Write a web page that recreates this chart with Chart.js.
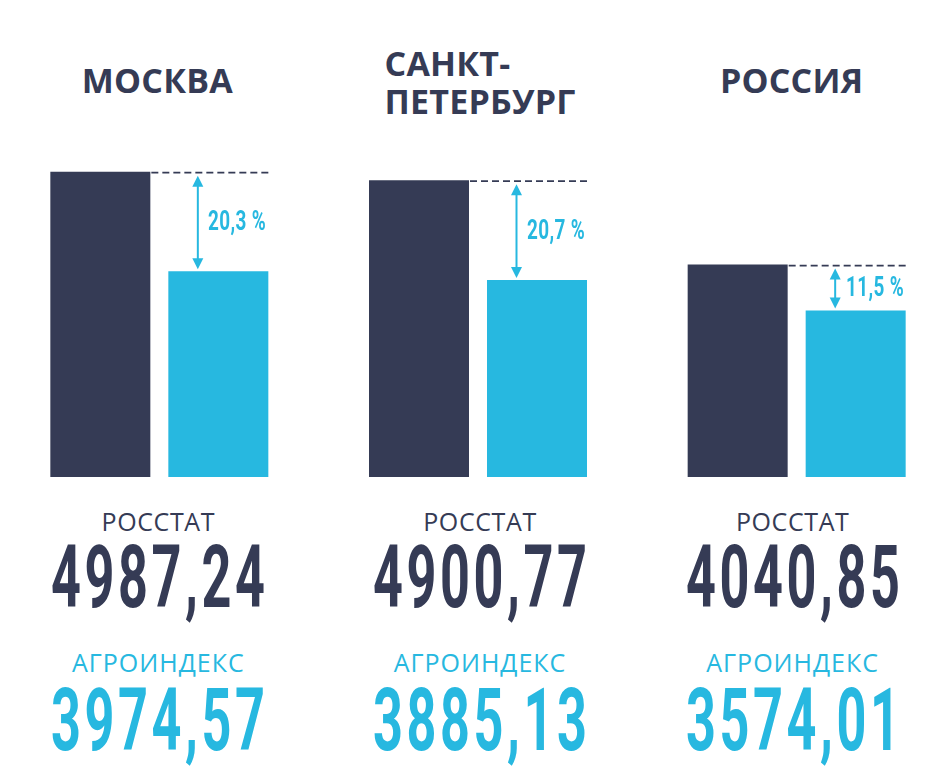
<!DOCTYPE html>
<html lang="ru">
<head>
<meta charset="utf-8">
<script src="https://cdn.jsdelivr.net/npm/chart.js@4.4.1/dist/chart.umd.min.js"></script>
<style>
  html, body { margin: 0; padding: 0; background: #ffffff; width: 944px; height: 781px; overflow: hidden; position: relative; }
  #wrap { position: absolute; left: 0; top: 140px; width: 956px; height: 337px; }
  .lbl { position: absolute; white-space: nowrap; line-height: 1; }
  .title { font-family: 'Open Sans', sans-serif; font-weight: 700; font-size: 34px; letter-spacing: 0.2px; color: #353b55; }
  .title.multi { white-space: pre; line-height: 38px; text-align: left; }
  .series { font-family: 'Open Sans', sans-serif; font-weight: 400; font-size: 25px; }
  .big { font-family: Roboto, sans-serif; font-weight: 700; font-size: 87px; letter-spacing: 6px; padding-left: 6px; }
  .pct { font-family: Roboto, sans-serif; font-weight: 700; font-size: 27px; letter-spacing: 0.5px; color: #27b8e0; transform-origin: 0 50%; transform: scaleX(0.7); }
</style>
</head>
<body>
<div id="wrap"><canvas id="chart" width="956" height="337"></canvas></div>
<script>
// ---- data ----
const regions = ['МОСКВА', 'САНКТ-ПЕТЕРБУРГ', 'РОССИЯ'];
const seriesNames = ['РОССТАТ', 'АГРОИНДЕКС'];
const rosstat = [4987.24, 4900.77, 4040.85];
const agroindex = [3974.57, 3885.13, 3574.01];
const gapPercent = [20.3, 20.7, 11.5];

// ---- styles / layout ----
const NAVY = '#353b55';
const CYAN = '#27b8e0';
const Y_MIN = 1878;
const Y_MAX = 5310;
const textOffsets = [-1, 2, -4];   // small text-column nudges relative to category centres

const fmt = v => v.toFixed(2).replace('.', ',');
const fmtPct = p => p.toFixed(1).replace('.', ',') + ' %';

const gapPlugin = {
  id: 'gapArrows',
  afterDatasetsDraw(chart) {
    const ctx = chart.ctx;
    const m0 = chart.getDatasetMeta(0), m1 = chart.getDatasetMeta(1);
    m0.data.forEach((dark, i) => {
      const cyan = m1.data[i];
      const dRight = dark.x + dark.width / 2;
      const cLeft = cyan.x - cyan.width / 2;
      const cRight = cyan.x + cyan.width / 2;
      // dashed line at level of the dark bar
      ctx.save();
      ctx.strokeStyle = NAVY;
      ctx.lineWidth = 1.8;
      ctx.setLineDash([7, 4]);
      ctx.beginPath();
      ctx.moveTo(dRight + 1, dark.y + 1);
      ctx.lineTo(cRight, dark.y + 1);
      ctx.stroke();
      ctx.restore();
      // double arrow
      const ax = cLeft + 29.5;
      const y1 = dark.y + 4, y2 = cyan.y - 2;
      const hw = 5.5, hh = 11;
      ctx.save();
      ctx.strokeStyle = CYAN;
      ctx.fillStyle = CYAN;
      ctx.lineWidth = 2;
      ctx.beginPath();
      ctx.moveTo(ax, y1 + hh - 1);
      ctx.lineTo(ax, y2 - hh + 1);
      ctx.stroke();
      ctx.beginPath();
      ctx.moveTo(ax, y1); ctx.lineTo(ax - hw, y1 + hh); ctx.lineTo(ax + hw, y1 + hh); ctx.closePath();
      ctx.fill();
      ctx.beginPath();
      ctx.moveTo(ax, y2); ctx.lineTo(ax - hw, y2 - hh); ctx.lineTo(ax + hw, y2 - hh); ctx.closePath();
      ctx.fill();
      ctx.restore();
    });
  }
};

const chart = new Chart(document.getElementById('chart'), {
  type: 'bar',
  data: {
    labels: regions,
    datasets: [
      { label: seriesNames[0], data: rosstat, backgroundColor: NAVY },
      { label: seriesNames[1], data: agroindex, backgroundColor: CYAN }
    ]
  },
  options: {
    responsive: false,
    animation: false,
    events: [],
    categoryPercentage: 236 / 318.67,
    barPercentage: 100 / 118,
    layout: { padding: 0 },
    plugins: { legend: { display: false }, tooltip: { enabled: false } },
    scales: {
      x: { display: false },
      y: { display: false, min: Y_MIN, max: Y_MAX }
    }
  },
  plugins: [gapPlugin]
});

// ---- HTML text placed from the chart's own scales ----
const wrap = document.getElementById('wrap');
const offTop = wrap.offsetTop;
function addDiv(cls, text, styles) {
  const d = document.createElement('div');
  d.className = 'lbl ' + cls;
  d.textContent = text;
  Object.assign(d.style, styles);
  document.body.appendChild(d);
  return d;
}
const m0 = chart.getDatasetMeta(0), m1 = chart.getDatasetMeta(1);
regions.forEach((name, i) => {
  const cx = chart.scales.x.getPixelForValue(i) + textOffsets[i];
  const multi = name.includes('-');
  if (multi) {
    addDiv('title multi', name.replace('-', '-\n'), { left: cx + 'px', top: '44px', transform: 'translateX(-50%)' });
  } else {
    addDiv('title', name, { left: (cx - 1) + 'px', top: '63px', transform: 'translateX(-50%)' });
  }
  addDiv('series', seriesNames[0], { left: cx + 'px', top: '509px', color: NAVY, letterSpacing: '0.6px', transform: 'translateX(-50%)' });
  addDiv('big', fmt(rosstat[i]), { left: cx + 'px', top: '534px', color: NAVY, transform: 'translateX(-50%) scaleX(0.6)' });
  addDiv('series', seriesNames[1], { left: cx + 'px', top: '650px', color: CYAN, letterSpacing: '1px', transform: 'translateX(-50%)' });
  addDiv('big', fmt(agroindex[i]), { left: cx + 'px', top: '677px', color: CYAN, transform: 'translateX(-50%) scaleX(0.6)' });
  const dark = m0.data[i], cyan = m1.data[i];
  const mid = (dark.y + cyan.y) / 2 + offTop;
  const cLeft = cyan.x - cyan.width / 2;
  addDiv('pct', fmtPct(gapPercent[i]), { left: (cLeft + 40) + 'px', top: (mid - 13.5) + 'px' });
});
</script>
</body>
</html>
